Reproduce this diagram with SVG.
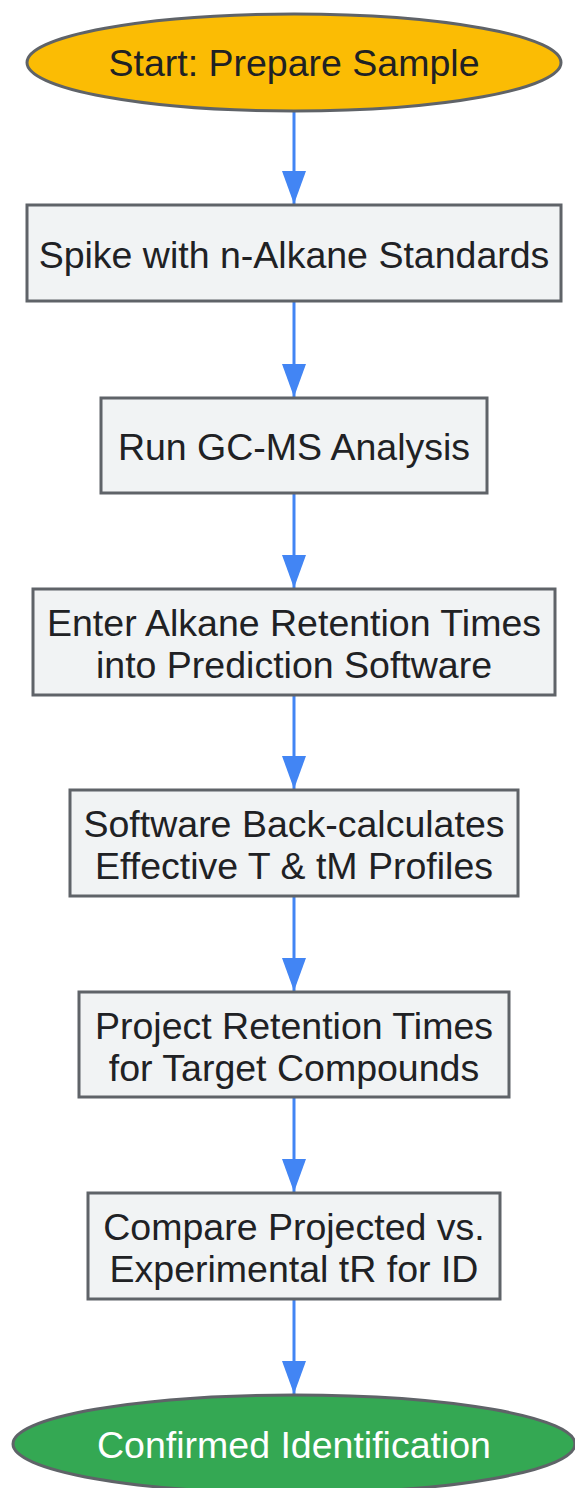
<svg xmlns="http://www.w3.org/2000/svg" width="575" height="1488" viewBox="0 0 575 1488">
<style>
.box{fill:#F1F3F4;stroke:#5F6368;stroke-width:3}
.start{fill:#FBBC04;stroke:#5F6368;stroke-width:3}
.end{fill:#34A853;stroke:#5F6368;stroke-width:3}
.t{font-family:"Liberation Sans",Arial,sans-serif;font-size:37.5px;fill:#202124;text-anchor:middle}
.tw{fill:#FFFFFF}
.edge{stroke:#4285F4;stroke-width:3;fill:none;marker-end:url(#arr)}
</style>
<defs>
<marker id="arr" markerUnits="userSpaceOnUse" markerWidth="34" markerHeight="24" refX="33" refY="12" orient="auto">
<path d="M0,0 L33,12 L0,24 z" fill="#4285F4"/>
</marker>
</defs>
<rect width="575" height="1488" fill="#FFFFFF"/>
<g id="connectors">
<line class="edge" x1="294" y1="111" x2="294" y2="204"/>
<line class="edge" x1="294" y1="301" x2="294" y2="397"/>
<line class="edge" x1="294" y1="493" x2="294" y2="588"/>
<line class="edge" x1="294" y1="695" x2="294" y2="789"/>
<line class="edge" x1="294" y1="896" x2="294" y2="991"/>
<line class="edge" x1="294" y1="1097" x2="294" y2="1192"/>
<line class="edge" x1="294" y1="1299" x2="294" y2="1394"/>
</g>
<g id="start">
<ellipse class="start" cx="294" cy="62.5" rx="267" ry="48.5"/>
<text class="t" x="294" y="76">Start: Prepare Sample</text>
</g>
<g id="spike">
<rect class="box" x="27" y="205" width="534" height="96"/>
<text class="t" x="294" y="268">Spike with n-Alkane Standards</text>
</g>
<g id="run">
<rect class="box" x="101" y="398" width="386" height="95"/>
<text class="t" x="294" y="460">Run GC-MS Analysis</text>
</g>
<g id="enter">
<rect class="box" x="33" y="589" width="522" height="106"/>
<text class="t" x="294" y="636">Enter Alkane Retention Times</text>
<text class="t" x="294" y="678">into Prediction Software</text>
</g>
<g id="backcalc">
<rect class="box" x="70" y="790" width="448" height="106"/>
<text class="t" x="294" y="837">Software Back-calculates</text>
<text class="t" x="294" y="879">Effective T &amp; tM Profiles</text>
</g>
<g id="project">
<rect class="box" x="79" y="992" width="430" height="105"/>
<text class="t" x="294" y="1039">Project Retention Times</text>
<text class="t" x="294" y="1081">for Target Compounds</text>
</g>
<g id="compare">
<rect class="box" x="88" y="1193" width="412" height="106"/>
<text class="t" x="294" y="1240">Compare Projected vs.</text>
<text class="t" x="294" y="1282">Experimental tR for ID</text>
</g>
<g id="end">
<ellipse class="end" cx="294" cy="1444" rx="281" ry="49"/>
<text class="t tw" x="294" y="1458">Confirmed Identification</text>
</g>
</svg>
